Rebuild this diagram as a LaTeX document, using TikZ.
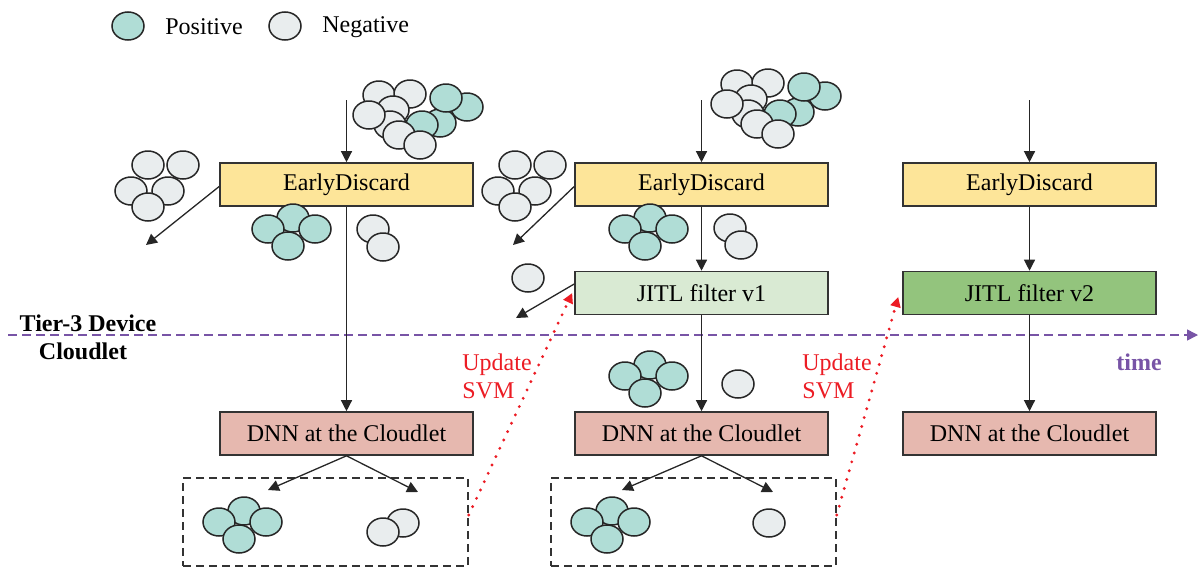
\documentclass[tikz,border=0pt]{standalone}
\usepackage{fontspec}
\setmainfont{Liberation Serif}
\usetikzlibrary{arrows.meta, positioning}

\definecolor{posfill}{RGB}{176,221,214}
\definecolor{negfill}{RGB}{233,237,238}
\definecolor{edyellow}{RGB}{253,229,153}
\definecolor{jitllight}{RGB}{217,234,211}
\definecolor{jitldark}{RGB}{147,196,125}
\definecolor{dnnred}{RGB}{230,184,175}
\definecolor{timepurple}{RGB}{120,84,166}
\definecolor{svmred}{RGB}{236,28,36}

% one sample (ellipse) and the groups of samples
\newcommand{\blob}[3]{\draw[#1] (#2,#3) ellipse [x radius=8pt, y radius=7pt];}
\newcommand{\posfour}[2]{%
  \foreach \dx/\dy in {0/0,-25/11,22/11,-5/28} {\blob{possample}{#1+\dx}{#2+\dy}}}
\newcommand{\negfive}[2]{%
  \foreach \dx/\dy in {0/0,35/0,-17/26,20/26,0/42} {\blob{negsample}{#1+\dx}{#2+\dy}}}
\newcommand{\mixed}[2]{%
  \foreach \kind/\dx/\dy in {negsample/0/0,negsample/31/-1,negsample/14/15,negsample/11/30,
      negsample/-10/20,possample/88/12,possample/61/28,possample/67/3,possample/43/30,
      negsample/20/40,negsample/41/50} {\blob{\kind}{#1+\dx}{#2+\dy}}}

\begin{document}
\begin{tikzpicture}[x=0.5pt, y=-0.5pt,
  possample/.style={fill=posfill, draw=black!85, line width=0.75pt},
  negsample/.style={fill=negfill, draw=black!85, line width=0.75pt},
  stage/.style={draw=black!80, line width=0.8pt, minimum width=126.5pt, minimum height=21.5pt,
    inner sep=0pt, font=\fontsize{12}{14}\selectfont},
  result/.style={draw=black!80, dash pattern=on 4pt off 2.5pt, line width=0.75pt,
    minimum width=142.5pt, minimum height=44pt, inner sep=0pt},
  flow/.style={draw=black!85, line width=0.65pt, -{Triangle[length=5.5pt, width=5.5pt]}},
  update/.style={draw=svmred, line width=1.6pt, line cap=round, dash pattern=on 0pt off 4.6pt,
    -{Triangle[length=5pt, width=5pt]}},
  lbl/.style={font=\fontsize{12}{14}\selectfont, inner sep=0pt}]
\useasboundingbox (0,0) rectangle (1198,568);

% legend
\blob{possample}{128}{26}
\node[lbl, anchor=west] (poslbl) at (165,27) {Positive};
\blob{negsample}{285}{26}
\node[lbl, anchor=west] (neglbl) at (322,27) {Negative};

% device / cloudlet border and time
\coordinate (tstart) at (8,335);
\coordinate (tend) at (1198,335);
\draw[draw=timepurple, line width=0.75pt, dash pattern=on 4.5pt off 2.5pt,
  -{Triangle[length=5.5pt, width=5.5pt]}] (tstart) -- (tend);
\node[lbl, font=\fontsize{12}{14}\selectfont\bfseries] (device) at (88,323) {Tier-3 Device};
\node[lbl, font=\fontsize{12}{14}\selectfont\bfseries] (cloudlet) at (83,351) {Cloudlet};
\node[lbl, font=\fontsize{12}{14}\selectfont\bfseries, text=timepurple] (time) at (1139,362) {time};

% stage boxes
\node[stage, fill=edyellow] (ed1) at (346.5,184.5) {EarlyDiscard};
\node[stage, fill=edyellow] (ed2) at (701.5,184.5) {EarlyDiscard};
\node[stage, fill=edyellow] (ed3) at (1029.5,184.5) {EarlyDiscard};
\node[stage, fill=jitllight] (jitl1) at (701.5,293) {JITL filter v1};
\node[stage, fill=jitldark] (jitl2) at (1029.5,293) {JITL filter v2};
\node[stage, fill=dnnred] (dnn1) at (346.5,433.5) {DNN at the Cloudlet};
\node[stage, fill=dnnred] (dnn2) at (701.5,433.5) {DNN at the Cloudlet};
\node[stage, fill=dnnred] (dnn3) at (1029.5,433.5) {DNN at the Cloudlet};
\node[result] (res1) at (325.5,522) {};
\node[result] (res2) at (693.5,522) {};

% free ends
\coordinate (in1) at (346.5,100);
\coordinate (in2) at (701.5,100);
\coordinate (in3) at (1029.5,100);
\coordinate (drop1) at (146,245);
\coordinate (drop2) at (513,245);
\coordinate (drop3) at (516,318);
\coordinate (hit1) at (268,490);
\coordinate (miss1) at (418,492);
\coordinate (hit2) at (622,490);
\coordinate (miss2) at (773,492);

% connectors
\draw[flow] (in1) -- (ed1.north);
\draw[flow] (in2) -- (ed2.north);
\draw[flow] (in3) -- (ed3.north);
\draw[flow] ([yshift=-1pt]ed1.west) -- (drop1);
\draw[flow] ([yshift=-1pt]ed2.west) -- (drop2);
\draw[flow] ([yshift=4.5pt]jitl1.west) -- (drop3);
\draw[flow] (ed1.south) -- (dnn1.north);
\draw[flow] (ed2.south) -- (jitl1.north);
\draw[flow] (jitl1.south) -- (dnn2.north);
\draw[flow] (ed3.south) -- (jitl2.north);
\draw[flow] (jitl2.south) -- (dnn3.north);
\draw[flow] (dnn1.south) -- (hit1);
\draw[flow] (dnn1.south) -- (miss1);
\draw[flow] (dnn2.south) -- (hit2);
\draw[flow] (dnn2.south) -- (miss2);

% SVM updates
\draw[update] ([yshift=3.5pt]res1.east) -- ([xshift=-1pt]jitl1.west);
\draw[update] ([yshift=3.5pt]res2.east) -- ([xshift=-2pt, yshift=-2pt]jitl2.west);
\node[lbl, anchor=west, align=left, text=svmred] (svm1) at (462,376) {Update\\SVM};
\node[lbl, anchor=west, align=left, text=svmred] (svm2) at (802,376) {Update\\SVM};

% samples, first round
\mixed{379}{95}
\negfive{148}{165}
\posfour{293}{218}
\blob{negsample}{373}{229} \blob{negsample}{383}{247}
\posfour{244}{511}
\blob{negsample}{403}{523} \blob{negsample}{383}{532}

% samples, second round
\mixed{737}{84}
\negfive{515}{165}
\posfour{650}{218}
\blob{negsample}{730}{228} \blob{negsample}{741}{245}
\blob{negsample}{528}{278}
\posfour{650}{365}
\blob{negsample}{738}{384}
\posfour{612}{511}
\blob{negsample}{769}{523}
\end{tikzpicture}
\end{document}
